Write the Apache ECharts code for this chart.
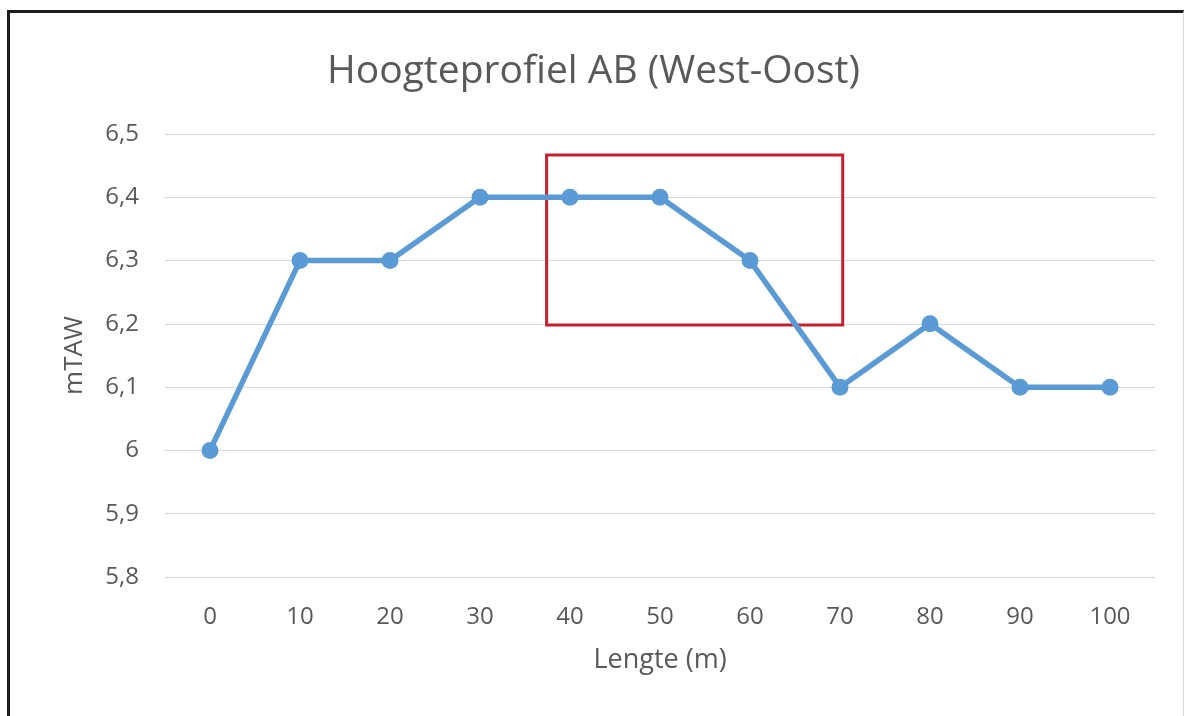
<!DOCTYPE html>
<html><head><meta charset="utf-8">
<script src="https://cdn.jsdelivr.net/npm/echarts@6/dist/echarts.min.js"></script>
<style>
html,body{margin:0;padding:0;background:#fff;}
#c{width:1187px;height:716px;}
#frame{position:absolute;left:7px;top:10px;width:1177px;height:720px;border-left:3px solid #1e1e1e;border-top:3px solid #1e1e1e;border-right:1px solid #d8d8d8;box-sizing:border-box;pointer-events:none;}
</style></head>
<body>
<div id="c"></div>
<div id="frame"></div>
<script>
const categories = ['0','10','20','30','40','50','60','70','80','90','100'];
const heights = [6.0, 6.3, 6.3, 6.4, 6.4, 6.4, 6.3, 6.1, 6.2, 6.1, 6.1];
const yTicks = {min: 5.8, max: 6.5, interval: 0.1};
const highlightBox = {x0: 37.4, x1: 70.3, y0: 6.198, y1: 6.467};

const chart = echarts.init(document.getElementById('c'));
const font = '"Open Sans", "Liberation Sans", sans-serif';
chart.setOption({
  animation: false,
  title: {text: 'Hoogteprofiel AB (West-Oost)', left: 'center', top: 47,
    textStyle: {fontFamily: font, fontSize: 39, fontWeight: 'normal', color: '#595959'}},
  grid: {left: 165, right: 32, top: 134, bottom: 139},
  xAxis: [{
    type: 'category', data: categories, boundaryGap: true,
    axisLine: {show: false}, axisTick: {show: false},
    axisLabel: {fontFamily: font, fontSize: 24, color: '#595959', margin: 28},
    name: 'Lengte (m)', nameLocation: 'middle', nameGap: 70,
    nameTextStyle: {fontFamily: font, fontSize: 27, color: '#595959'}
  }, {
    type: 'value', min: -5, max: 105, show: false
  }],
  yAxis: {
    type: 'value', min: yTicks.min, max: yTicks.max, interval: yTicks.interval,
    axisLine: {show: false}, axisTick: {show: false},
    splitLine: {lineStyle: {color: '#d9d9d9', width: 1}},
    axisLabel: {fontFamily: font, fontSize: 24, color: '#595959', margin: 26,
      formatter: v => (Math.round(v * 10) / 10).toString().replace('.', ',')},
    name: 'mTAW', nameLocation: 'middle', nameGap: 77,
    nameTextStyle: {fontFamily: font, fontSize: 26, color: '#595959'}
  },
  series: [{
    type: 'line', data: heights, xAxisIndex: 0,
    symbol: 'circle', symbolSize: 17,
    lineStyle: {color: '#5b9bd5', width: 5.5},
    itemStyle: {color: '#5b9bd5'}
  }, {
    type: 'line', data: [], xAxisIndex: 1,
    markArea: {
      silent: true,
      itemStyle: {color: 'rgba(0,0,0,0)', borderColor: '#c8202e', borderWidth: 3},
      data: [[{coord: [highlightBox.x0, highlightBox.y1]}, {coord: [highlightBox.x1, highlightBox.y0]}]]
    }
  }]
});
</script>
</body></html>
